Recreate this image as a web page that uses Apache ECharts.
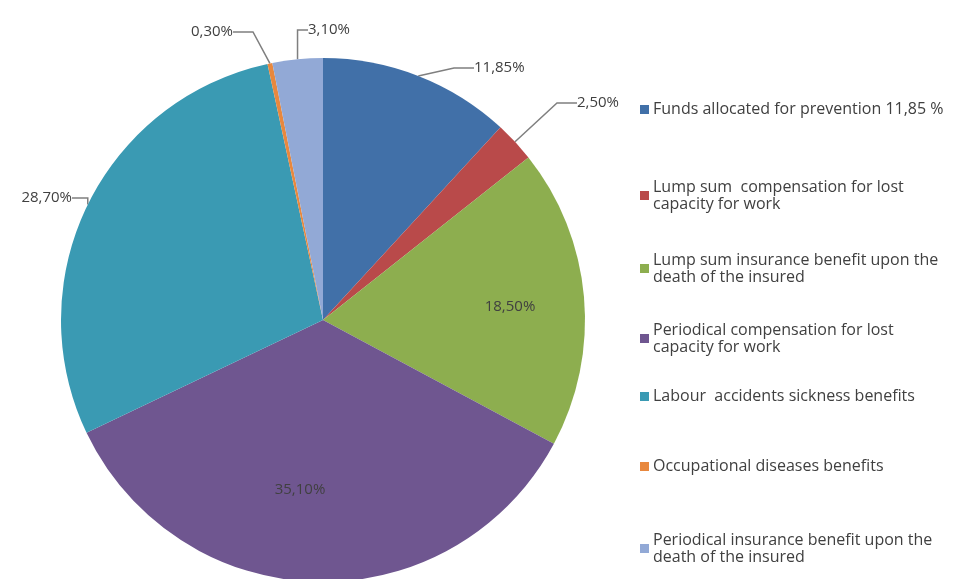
<!DOCTYPE html>
<html>
<head>
<meta charset="utf-8">
<script src="https://cdn.jsdelivr.net/npm/echarts@6/dist/echarts.min.js"></script>
<style>
  html, body { margin: 0; padding: 0; background: #fff; }
  #chart { width: 979px; height: 579px; }
</style>
</head>
<body>
<div id="chart"></div>
<script>
// slice names (legend text) and shares in %
let names = [
    'Funds allocated for prevention 11,85 %',
    'Lump sum  compensation for lost\ncapacity for work',
    'Lump sum insurance benefit upon the\ndeath of the insured',
    'Periodical compensation for lost\ncapacity for work',
    'Labour  accidents sickness benefits',
    'Occupational diseases benefits',
    'Periodical insurance benefit upon the\ndeath of the insured'
];
let values = [11.85, 2.50, 18.50, 35.10, 28.70, 0.30, 3.10];
let colors = ['#4170a8', '#b94a4a', '#8dae4f', '#6f5690', '#3a9ab3', '#e8883e', '#92a9d6'];

// where each percentage label sits
let labelPos = [
    {x: 474, y: 68, align: 'left'},
    {x: 577, y: 103, align: 'left'},
    {x: 510, y: 307, align: 'center', inside: true},
    {x: 300, y: 490, align: 'center', inside: true},
    {x: 72, y: 198, align: 'right'},
    {x: 233, y: 32, align: 'right'},
    {x: 308, y: 30, align: 'left'}
];
let legendTop = [96, 165, 238, 308, 383, 453, 518];

function fmt(v) {
    return v.toFixed(2).replace('.', ',') + '%';
}

let chart = echarts.init(document.getElementById('chart'));

let legends = names.map(function (n, i) {
    let twoLines = n.indexOf('\n') >= 0;
    return {
        data: [n],
        left: 635,
        top: legendTop[i],
        orient: 'vertical',
        icon: 'rect',
        itemWidth: 9,
        itemHeight: 9,
        itemGap: 0,
        selectedMode: false,
        textStyle: {
            fontFamily: 'Open Sans',
            fontSize: 16,
            color: '#404040',
            lineHeight: 17,
            padding: twoLines ? [17, 0, 0, -1] : [0, 0, 0, -1]
        }
    };
});

let option = {
    backgroundColor: '#fff',
    animation: false,
    color: colors,
    legend: legends,
    series: [{
        type: 'pie',
        center: [323, 320],
        radius: 262,
        startAngle: 90,
        clockwise: true,
        avoidLabelOverlap: false,
        data: values.map(function (v, i) {
            let item = {name: names[i], value: v};
            if (labelPos[i].inside) {
                item.label = {position: 'inside'};
                item.labelLine = {show: false};
            }
            return item;
        }),
        label: {
            show: true,
            position: 'outside',
            formatter: function (p) { return fmt(p.value); },
            fontFamily: 'Open Sans',
            fontSize: 15,
            color: '#404040'
        },
        labelLine: {
            show: true,
            length: 10,
            length2: 20,
            lineStyle: {color: '#7f7f7f', width: 1.5}
        },
        labelLayout: function (params) {
            let p = labelPos[params.dataIndex];
            return {x: p.x, y: p.y, align: p.align, verticalAlign: 'middle'};
        },
        itemStyle: {borderWidth: 0},
        emphasis: {disabled: true}
    }]
};
chart.setOption(option);
</script>
</body>
</html>
